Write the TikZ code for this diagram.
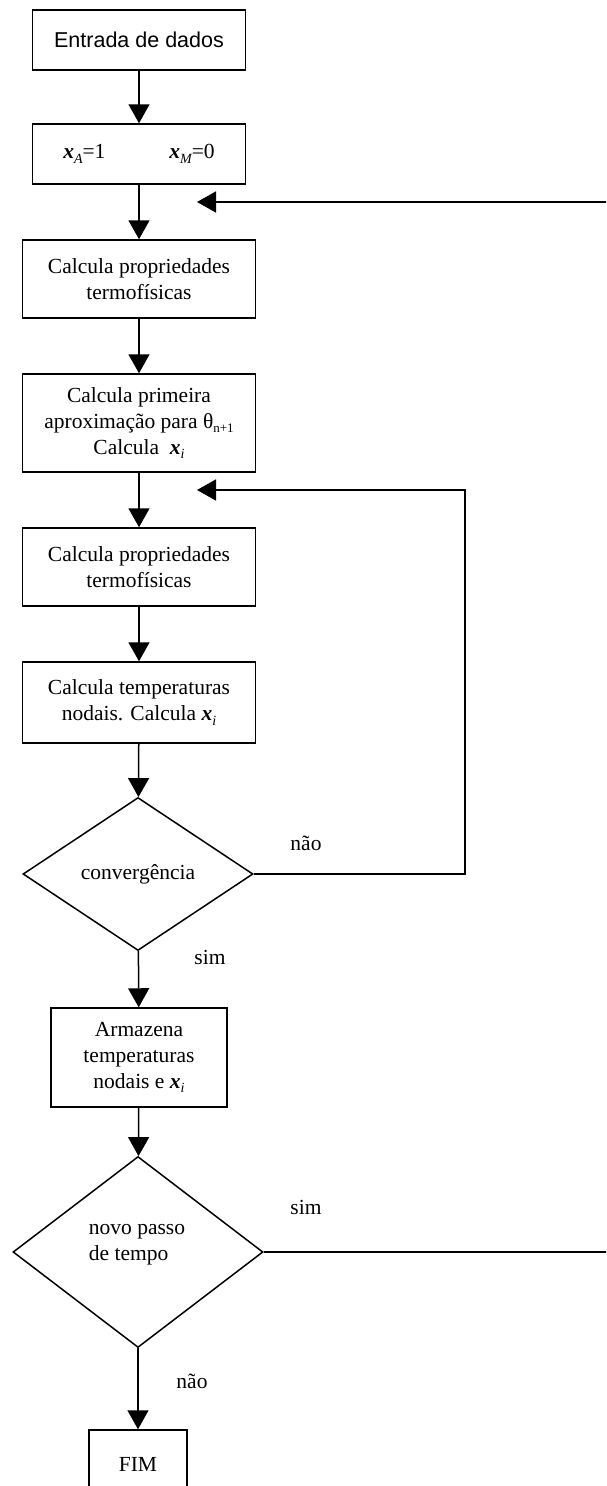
\documentclass[tikz,border=0pt]{standalone}
\usepackage{fontspec}
\setmainfont{Liberation Serif}
\newfontfamily\arialf{Liberation Sans}
\usetikzlibrary{arrows.meta,shapes.geometric}
\newcommand\bxi[1]{{\bfseries\itshape x}\raisebox{-0.22em}{\fontsize{14}{14}\selectfont\itshape #1}}
\newcommand\thetasub{θ\raisebox{-0.22em}{\fontsize{13}{13}\selectfont n+1}}
\begin{document}
\begin{tikzpicture}[x=1pt,y=-1pt,
  every node/.style={font=\fontsize{21.5}{26}\selectfont},
  boxn/.style={draw,line width=1.5pt,inner sep=0pt,align=center},
  dmd/.style={draw,line width=1.5pt,shape=diamond,inner sep=0pt},
  lbl/.style={inner sep=0pt},
  arr/.style={line width=1.5pt,-{Triangle[length=19pt,width=21pt]}},
  ln/.style={line width=1.5pt}]
\useasboundingbox (0,0) rectangle (606,1486);
\clip (0,0) rectangle (606,1486);
\node[boxn,minimum width=213pt,minimum height=60pt,font=\arialf\fontsize{21.5}{26}\selectfont] (b1) at (139,40) {Entrada de dados};
\node[boxn,minimum width=213pt,minimum height=60pt] (b2) at (139,154) {\bxi{A}=1\hspace{64pt}\bxi{M}=0};
\node[boxn,minimum width=233pt,minimum height=78pt] (b3) at (139,279) {Calcula propriedades\\termofísicas};
\node[boxn,minimum width=233pt,minimum height=98pt] (b4) at (139,423) {Calcula primeira\\aproximação para \thetasub\\Calcula\ \ \bxi{i}};
\node[boxn,minimum width=233pt,minimum height=78pt] (b5) at (139,567) {Calcula propriedades\\termofísicas};
\node[boxn,minimum width=233pt,minimum height=81pt] (b6) at (139,702.5) {Calcula temperaturas\\nodais. Calcula \bxi{i}};
\node[dmd,minimum width=230pt,minimum height=153pt] (conv) at (138,874) {convergência};
\node[boxn,minimum width=176pt,minimum height=99pt] (arm) at (139,1057.5) {Armazena\\temperaturas\\nodais e \bxi{i}};
\node[dmd,minimum width=250pt,minimum height=191pt] (novo) at (138,1252) {};
\node[lbl,align=left] (novot) at (137,1245) {novo passo\\de tempo};
\node[boxn,minimum width=98pt,minimum height=80pt] (fim) at (138,1470) {\raisebox{12pt}{FIM}};
\node[lbl] (l1) at (306,843) {não};
\node[lbl] (l2) at (210,957) {sim};
\node[lbl] (l3) at (306,1207) {sim};
\node[lbl] (l4) at (192,1381) {não};
\coordinate (r1) at (612,202);
\coordinate (t1) at (197,202);
\coordinate (k) at (465,490);
\coordinate (t2) at (197,490);
\coordinate (r2) at (612,1252);
\draw[arr] (b1) -- (b2);
\draw[arr] (b2) -- (b3);
\draw[arr] (b3) -- (b4);
\draw[arr] (b4) -- (b5);
\draw[arr] (b5) -- (b6);
\draw[arr] (b6) -- (conv);
\draw[arr] (conv) -- (arm);
\draw[arr] (arm) -- (novo);
\draw[arr] (novo) -- (fim);
\draw[arr] (r1) -- (t1);
\draw[arr] (conv.east) -| (k) -- (t2);
\draw[ln] (novo.east) -- (r2);
\end{tikzpicture}
\end{document}
